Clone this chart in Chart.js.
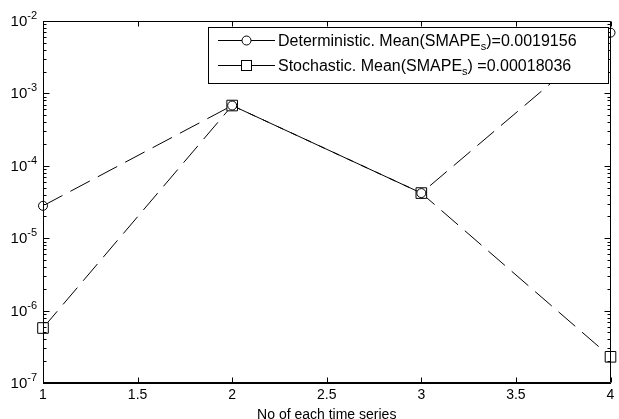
<!DOCTYPE html>
<html><head><meta charset="utf-8">
<script src="https://cdn.jsdelivr.net/npm/chart.js@4.4.0/dist/chart.umd.min.js"></script>
<style>html,body{margin:0;padding:0;background:#fff;} #wrap{width:619px;height:419px;}</style>
</head><body><div id="wrap"><canvas id="c" width="619" height="419"></canvas></div>
<script>
// ---- data ----
const xValues = [1, 2, 3, 4];
const deterministic = [2.8e-5, 6.8e-4, 4.2e-5, 6.9e-3];
const stochastic = [5.75e-7, 6.8e-4, 4.2e-5, 2.3e-7];
const seriesNames = ['Deterministic. Mean(SMAPE', 'Stochastic. Mean(SMAPE'];
const seriesSubscript = ['s', 's'];
const seriesSuffix = [')=0.0019156', ') =0.00018036'];
const yTickExponents = [-7, -6, -5, -4, -3, -2];
const xTickStep = 0.5;
const xTitle = 'No of each time series';

const FONT = "'Liberation Sans', Arial, sans-serif";

const framePlugin = {
  id: 'frame',
  afterDraw(chart) {
    const {ctx, chartArea: a, scales: {x, y}} = chart;
    ctx.save();
    ctx.strokeStyle = '#000';
    ctx.lineWidth = 1;
    ctx.setLineDash([]);
    const L = a.left + 0.5, R = Math.round(a.right) - 0.5, T = a.top + 0.5, B = Math.round(a.bottom) - 0.5;
    ctx.beginPath();
    ctx.rect(L, T, R - L, B - T);
    x.ticks.forEach(t => {
      const px = Math.round(x.getPixelForValue(t.value)) + 0.5;
      ctx.moveTo(px, B); ctx.lineTo(px, B - 5);
      ctx.moveTo(px, T); ctx.lineTo(px, T + 5);
    });
    y.ticks.forEach(t => {
      const base = t.value;
      for (let m = 1; m <= 9; m++) {
        const v = base * m;
        if (v > y.max * 1.0001) break;
        const py = Math.round(y.getPixelForValue(v)) + 0.5;
        const len = m === 1 ? 6 : 3;
        ctx.moveTo(L, py); ctx.lineTo(L + len, py);
        ctx.moveTo(R, py); ctx.lineTo(R - len, py);
      }
    });
    ctx.stroke();

    // y tick labels: 10 with superscript exponent
    ctx.fillStyle = '#000';
    ctx.textBaseline = 'alphabetic';
    ctx.textAlign = 'left';
    y.ticks.forEach(t => {
      const e = String(Math.round(Math.log10(t.value)));
      const py = y.getPixelForValue(t.value);
      ctx.font = '11px ' + FONT;
      const ew = ctx.measureText(e).width;
      ctx.font = '15px ' + FONT;
      const bw = ctx.measureText('10').width;
      const right = a.left - 6;
      const x0 = right - ew - bw;
      ctx.fillText('10', x0, py + 5);
      ctx.font = '11px ' + FONT;
      ctx.fillText(e, x0 + bw, py - 2);
    });

    // legend box
    const bx = 208.5, by = 27.5, bwid = 400, bh = 56;
    ctx.fillStyle = '#fff';
    ctx.fillRect(bx, by, bwid, bh);
    ctx.strokeRect(bx, by, bwid, bh);
    const rows = [40, 65];
    chart.data.datasets.forEach((ds, i) => {
      const ry = rows[i] + 0.5;
      ctx.beginPath();
      ctx.moveTo(218, ry); ctx.lineTo(275, ry);
      ctx.stroke();
      ctx.fillStyle = '#fff';
      if (ds.pointStyle === 'circle') {
        ctx.beginPath(); ctx.arc(246.5, ry, 4.5, 0, Math.PI * 2); ctx.fill(); ctx.stroke();
      } else {
        ctx.fillRect(241.5, ry - 5, 10, 10); ctx.strokeRect(241.5, ry - 5, 10, 10);
      }
      ctx.fillStyle = '#000';
      ctx.textBaseline = 'alphabetic';
      ctx.textAlign = 'left';
      let tx = 278;
      const base = rows[i] + 6;
      ctx.font = '16px ' + FONT;
      ctx.fillText(seriesNames[i], tx, base);
      tx += ctx.measureText(seriesNames[i]).width;
      ctx.font = '11px ' + FONT;
      ctx.fillText(seriesSubscript[i], tx, base + 4);
      tx += ctx.measureText(seriesSubscript[i]).width;
      ctx.font = '16px ' + FONT;
      ctx.fillText(seriesSuffix[i], tx, base);
    });
    ctx.restore();
  }
};

const common = {
  borderColor: '#000', borderWidth: 1, borderDash: [22, 9], tension: 0,
  pointBorderColor: '#000', pointBackgroundColor: '#fff', pointBorderWidth: 1,
  showLine: true, clip: false, fill: false
};

new Chart(document.getElementById('c'), {
  type: 'line',
  data: {
    datasets: [
      Object.assign({}, common, {
        label: seriesNames[0] + seriesSubscript[0] + seriesSuffix[0],
        data: xValues.map((x, i) => ({x, y: deterministic[i]})),
        pointStyle: 'circle', pointRadius: 4.5
      }),
      Object.assign({}, common, {
        label: seriesNames[1] + seriesSubscript[1] + seriesSuffix[1],
        data: xValues.map((x, i) => ({x, y: stochastic[i]})),
        pointStyle: 'rect', pointRadius: 7.5
      })
    ]
  },
  options: {
    responsive: false, animation: false, devicePixelRatio: 1,
    layout: {padding: {left: 0, right: 3, top: 21, bottom: 0}},
    plugins: {legend: {display: false}, tooltip: {enabled: false}},
    scales: {
      x: {
        type: 'linear', min: 1, max: 4,
        ticks: {stepSize: xTickStep, callback: v => String(Number(v)), color: '#000', font: {family: FONT, size: 14}, padding: 4, maxRotation: 0, autoSkip: false},
        grid: {display: false, drawTicks: false},
        border: {display: true, color: '#000'},
        title: {display: true, text: xTitle, color: '#000', font: {family: FONT, size: 14}, padding: {top: 0, bottom: -5}},
        afterFit(s) { s.height = 36; }
      },
      y: {
        type: 'logarithmic', min: 1e-7, max: 1e-2,
        afterBuildTicks(s) { s.ticks = yTickExponents.map(e => ({value: Math.pow(10, e)})); },
        ticks: {display: false},
        grid: {display: false, drawTicks: false},
        border: {display: true, color: '#000'},
        afterFit(s) { s.width = 43; }
      }
    }
  },
  plugins: [framePlugin]
});
</script>
</body></html>
